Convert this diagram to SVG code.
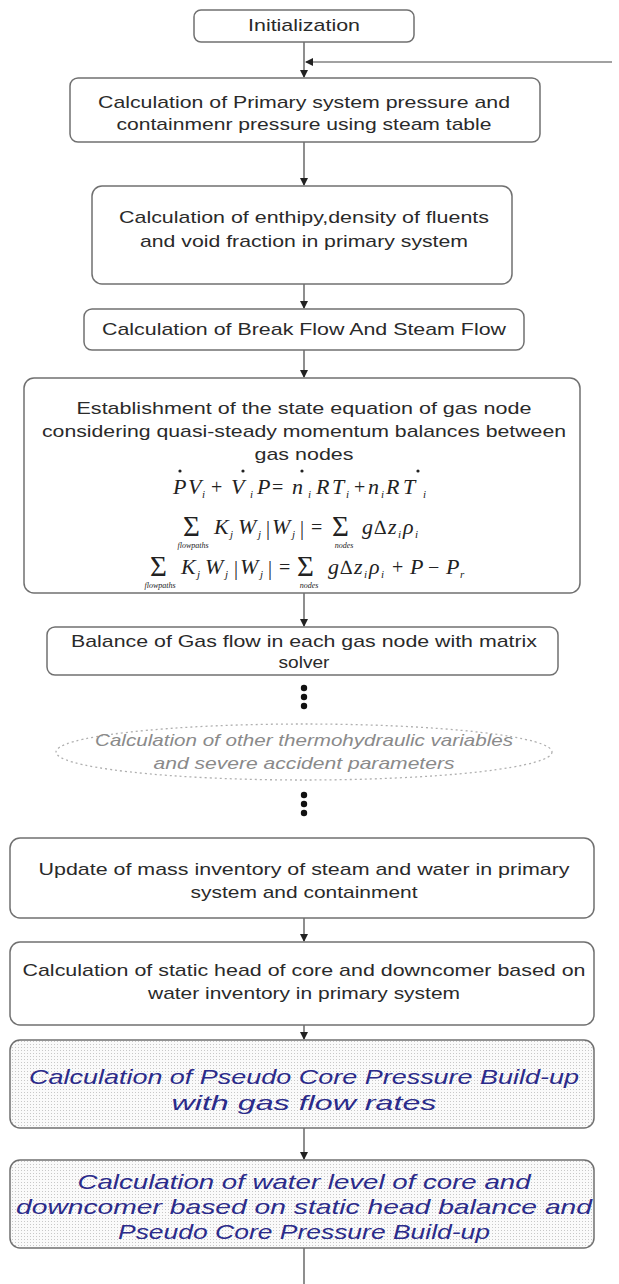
<svg xmlns="http://www.w3.org/2000/svg" width="619" height="1284" viewBox="0 0 619 1284">
<style>
.box{fill:#fff;stroke:#707070;stroke-width:1.5}
.pbox{fill:url(#dots);stroke:#707070;stroke-width:1.5}
.t{font-family:"Liberation Sans",Arial,sans-serif;font-size:17px;fill:#2a2a2a;text-anchor:middle}
.bt{font-family:"Liberation Sans",Arial,sans-serif;font-size:21px;fill:#2b2b8a;font-style:italic;text-anchor:middle}
.gt{font-family:"Liberation Sans",Arial,sans-serif;font-size:17px;fill:#8a8a8a;font-style:italic;text-anchor:middle}
.e{font-family:"Liberation Serif","Times New Roman",serif;font-size:22px;fill:#222;font-style:italic}
.o{font-family:"Liberation Serif","Times New Roman",serif;font-size:20px;fill:#222;font-style:normal}
.s{font-family:"Liberation Serif","Times New Roman",serif;font-size:11px;fill:#222;font-style:italic}
.sm{font-family:"Liberation Serif","Times New Roman",serif;font-size:8px;fill:#222;font-style:italic;text-anchor:middle}
.sg{font-family:"Liberation Serif","Times New Roman",serif;font-size:29px;fill:#222}
.ln{fill:none;stroke:#444;stroke-width:1.2}
</style>
<defs>
<pattern id="dots" width="3" height="3" patternUnits="userSpaceOnUse">
<rect width="3" height="3" fill="#fafafa"/>
<rect width="1" height="1" fill="#c8c8c8"/>
</pattern>
<marker id="ah" markerWidth="8" markerHeight="8" refX="7" refY="4" orient="auto" markerUnits="userSpaceOnUse">
<path d="M0,0 L8,4 L0,8 z" fill="#222"/>
</marker>
</defs>
<g id="connectors">
<path class="ln" d="M304,42 V77" marker-end="url(#ah)"/>
<path class="ln" d="M612,62 H306" marker-end="url(#ah)"/>
<path class="ln" d="M304,142 V185" marker-end="url(#ah)"/>
<path class="ln" d="M304,284 V308" marker-end="url(#ah)"/>
<path class="ln" d="M304,350 V377" marker-end="url(#ah)"/>
<path class="ln" d="M304,593 V626" marker-end="url(#ah)"/>
<path class="ln" d="M304,918 V941" marker-end="url(#ah)"/>
<path class="ln" d="M304,1025 V1039" marker-end="url(#ah)"/>
<path class="ln" d="M304,1128 V1159" marker-end="url(#ah)"/>
<path class="ln" d="M304,1248 V1284"/>
<g fill="#111">
<circle cx="304" cy="688" r="3.2"/><circle cx="304" cy="697" r="3.2"/><circle cx="304" cy="706" r="3.2"/>
<circle cx="304" cy="795" r="3.2"/><circle cx="304" cy="804" r="3.2"/><circle cx="304" cy="813" r="3.2"/>
</g>
</g>
<g id="n1"><rect class="box" x="194" y="10" width="220" height="32" rx="7"/><text class="t" x="304" y="31" font-size="15" textLength="112" lengthAdjust="spacingAndGlyphs">Initialization</text></g>
<g id="n2"><rect class="box" x="70" y="78" width="470" height="64" rx="8"/>
<text class="t" x="304" y="108" textLength="412" lengthAdjust="spacingAndGlyphs">Calculation of Primary system pressure and</text>
<text class="t" x="304" y="130" textLength="375" lengthAdjust="spacingAndGlyphs">containmenr pressure using steam table</text></g>
<g id="n3"><rect class="box" x="92" y="186" width="420" height="98" rx="10"/>
<text class="t" x="304" y="223" textLength="370" lengthAdjust="spacingAndGlyphs">Calculation of enthipy,density of fluents</text>
<text class="t" x="304" y="247" textLength="328" lengthAdjust="spacingAndGlyphs">and void fraction in primary system</text></g>
<g id="n4"><rect class="box" x="84" y="309" width="440" height="41" rx="8"/>
<text class="t" x="304" y="335" textLength="404" lengthAdjust="spacingAndGlyphs">Calculation of Break Flow And  Steam Flow</text></g>
<g id="n5"><rect class="box" x="24" y="378" width="556" height="215" rx="10"/>
<text class="t" x="304" y="414" textLength="455" lengthAdjust="spacingAndGlyphs">Establishment of the state equation of  gas node</text>
<text class="t" x="304" y="437" textLength="524" lengthAdjust="spacingAndGlyphs">considering quasi-steady momentum balances between</text>
<text class="t" x="304" y="460" textLength="99" lengthAdjust="spacingAndGlyphs">gas nodes</text>
<g class="e">
<text x="173" y="494">P</text><text x="188" y="494">V</text><text class="s" x="202" y="498">i</text>
<text class="o" x="211" y="494">+</text>
<text x="231" y="494">V</text><text class="s" x="250" y="498">i</text>
<text x="257" y="494">P</text><text class="o" x="272" y="494">=</text>
<text x="292" y="494">n</text><text class="s" x="308" y="498">i</text>
<text x="316" y="494">R</text><text x="332" y="494">T</text><text class="s" x="346" y="498">i</text>
<text class="o" x="354" y="494">+</text>
<text x="368" y="494">n</text><text class="s" x="381" y="498">i</text>
<text x="386" y="494">R</text><text x="403" y="494">T</text><text class="s" x="423" y="498">i</text>
</g>
<g fill="#222"><circle cx="180" cy="471" r="1.6"/><circle cx="243" cy="471" r="1.6"/><circle cx="302" cy="471" r="1.6"/><circle cx="418" cy="471" r="1.6"/></g>
<text class="sg" x="183" y="536">Σ</text>
<text class="sm" x="193" y="548">flowpaths</text>
<g class="e"><text x="214" y="534">K</text><text class="s" x="230" y="538">j</text><text x="238" y="534">W</text><text class="s" x="258" y="538">j</text>
<text class="o" x="266" y="535" font-size="26">|</text><text x="272" y="534">W</text><text class="s" x="292" y="538">j</text><text class="o" x="300" y="535" font-size="26">|</text>
<text class="o" x="311" y="534">=</text></g>
<text class="sg" x="332" y="536">Σ</text>
<text class="sm" x="344" y="548">nodes</text>
<g class="e"><text x="362" y="534">g</text><text class="o" x="374" y="534">∆</text><text x="388" y="534">z</text><text class="s" x="398" y="538">i</text><text x="403" y="534">ρ</text><text class="s" x="415" y="538">i</text></g>
<text class="sg" x="150" y="576">Σ</text>
<text class="sm" x="160" y="588">flowpaths</text>
<g class="e"><text x="181" y="574">K</text><text class="s" x="197" y="578">j</text><text x="205" y="574">W</text><text class="s" x="225" y="578">j</text>
<text class="o" x="234" y="575" font-size="26">|</text><text x="240" y="574">W</text><text class="s" x="260" y="578">j</text><text class="o" x="268" y="575" font-size="26">|</text>
<text class="o" x="279" y="574">=</text></g>
<text class="sg" x="297" y="576">Σ</text>
<text class="sm" x="309" y="588">nodes</text>
<g class="e"><text x="328" y="574">g</text><text class="o" x="340" y="574">∆</text><text x="354" y="574">z</text><text class="s" x="364" y="578">i</text><text x="369" y="574">ρ</text><text class="s" x="381" y="578">i</text>
<text class="o" x="392" y="574">+</text><text x="410" y="574">P</text><text class="o" x="428" y="574">−</text><text x="446" y="574">P</text><text class="s" x="460" y="578">r</text></g></g>
<g id="n6"><rect class="box" x="47" y="627" width="511" height="48" rx="8"/>
<text class="t" x="304" y="647" textLength="466" lengthAdjust="spacingAndGlyphs">Balance of Gas flow in each gas node with matrix</text>
<text class="t" x="304" y="668" textLength="51" lengthAdjust="spacingAndGlyphs">solver</text></g>
<g id="n7"><ellipse cx="304" cy="752" rx="248" ry="28" fill="none" stroke="#b0b0b0" stroke-width="1.3" stroke-dasharray="2 3"/>
<text class="gt" x="304" y="746" textLength="418" lengthAdjust="spacingAndGlyphs">Calculation of other thermohydraulic variables</text>
<text class="gt" x="304" y="769" textLength="301" lengthAdjust="spacingAndGlyphs">and severe accident parameters</text></g>
<g id="n8"><rect class="box" x="10" y="838" width="584" height="80" rx="10"/>
<text class="t" x="304" y="875" textLength="531" lengthAdjust="spacingAndGlyphs">Update of mass inventory of steam and water  in primary</text>
<text class="t" x="304" y="898" textLength="227" lengthAdjust="spacingAndGlyphs">system and containment</text></g>
<g id="n9"><rect class="box" x="10" y="942" width="584" height="83" rx="10"/>
<text class="t" x="304" y="976" textLength="563" lengthAdjust="spacingAndGlyphs">Calculation of static head of core and downcomer based on</text>
<text class="t" x="304" y="999" textLength="312" lengthAdjust="spacingAndGlyphs">water inventory in primary system</text></g>
<g id="n10"><rect class="pbox" x="10" y="1040" width="584" height="88" rx="10"/>
<text class="bt" x="304" y="1084" textLength="550" lengthAdjust="spacingAndGlyphs">Calculation of Pseudo Core Pressure Build-up</text>
<text class="bt" x="304" y="1110" textLength="265" lengthAdjust="spacingAndGlyphs">with gas flow rates</text></g>
<g id="n11"><rect class="pbox" x="10" y="1160" width="584" height="88" rx="10"/>
<text class="bt" x="304" y="1189" textLength="453" lengthAdjust="spacingAndGlyphs">Calculation of water level of core and</text>
<text class="bt" x="304" y="1214" textLength="576" lengthAdjust="spacingAndGlyphs">downcomer based on static head balance and</text>
<text class="bt" x="304" y="1239" textLength="372" lengthAdjust="spacingAndGlyphs">Pseudo Core Pressure Build-up</text></g>
</svg>
